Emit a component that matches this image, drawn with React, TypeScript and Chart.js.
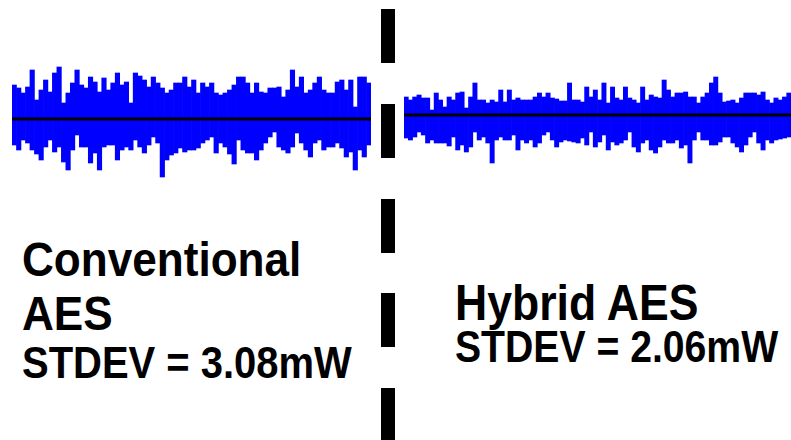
import React, { useEffect, useRef } from "react";
import { Chart, registerables } from "chart.js";

Chart.register(...registerables);

// Power trace envelopes (deviation from mean, arbitrary units), one value per sample window
const CONV_UPPER = [34,31,26,32,49,19,29,39,27,46,52,16,26,36,49,34,31,42,37,27,41,29,36,46,34,37,16,46,43,39,32,42,36,31,26,29,36,36,42,32,39,26,36,32,36,26,24,26,29,34,42,42,36,26,36,27,26,31,31,32,22,29,49,32,42,26,29,36,42,29,26,26,37,39,29,39,12,42,42,36];
const CONV_LOWER = [-26,-31,-21,-24,-31,-35,-41,-28,-21,-33,-28,-43,-51,-31,-16,-28,-28,-44,-34,-51,-28,-26,-26,-41,-31,-28,-31,-21,-28,-34,-26,-18,-24,-58,-41,-36,-34,-29,-33,-31,-31,-29,-24,-21,-18,-34,-24,-28,-35,-45,-21,-31,-34,-34,-41,-31,-24,-18,-13,-28,-31,-34,-28,-14,-24,-31,-38,-24,-21,-31,-28,-28,-24,-29,-38,-33,-51,-31,-38,-26];
const HYB_UPPER = [18,15,18,20,17,17,5,22,15,8,18,15,22,23,7,18,32,15,15,12,15,13,25,13,25,15,17,15,15,15,18,22,18,22,17,16,14,14,32,15,15,13,28,18,25,15,32,12,28,17,15,28,17,15,12,28,15,20,18,17,35,25,18,22,22,23,18,18,12,18,22,32,38,22,13,14,15,12,17,22,22,22,20,23,15,12,17,15,18,22];
const HYB_LOWER = [-23,-25,-22,-17,-20,-28,-25,-28,-28,-28,-31,-22,-35,-30,-37,-32,-17,-25,-22,-28,-48,-25,-22,-25,-25,-20,-35,-25,-28,-25,-32,-28,-20,-17,-25,-32,-27,-25,-26,-27,-28,-23,-30,-17,-32,-27,-20,-35,-27,-30,-28,-25,-17,-32,-37,-28,-25,-35,-38,-32,-25,-28,-28,-25,-33,-30,-48,-25,-17,-25,-25,-30,-30,-27,-22,-22,-28,-32,-37,-30,-22,-17,-28,-35,-25,-28,-25,-24,-23,-22];

const BASELINE = 0;
const CONV_RANGE = [-66, 59];
const HYB_RANGE = [-55, 45];

const LABEL_CONV_1 = "Conventional";
const LABEL_CONV_2 = "AES";
const LABEL_CONV_STD = "STDEV = 3.08mW";
const LABEL_HYB_1 = "Hybrid AES";
const LABEL_HYB_STD = "STDEV = 2.06mW";

const zeroLinePlugin = {
  id: "zeroLine",
  afterDatasetsDraw(chart: any) {
    const { ctx, chartArea, scales } = chart;
    const y = scales.y.getPixelForValue(BASELINE);
    ctx.save();
    ctx.strokeStyle = "#000000";
    ctx.lineWidth = 3;
    ctx.beginPath();
    ctx.moveTo(chartArea.left, y);
    ctx.lineTo(chartArea.right, y);
    ctx.stroke();
    ctx.restore();
  },
};

function Wave(props: { upper: number[]; lower: number[]; range: number[]; left: number; top: number; width: number; height: number }) {
  const ref = useRef<HTMLCanvasElement | null>(null);
  useEffect(() => {
    if (!ref.current) return;
    const labels = props.upper.map((_, i) => String(i));
    const data = props.upper.map((u, i) => [props.lower[i], u]);
    const chart = new Chart(ref.current, {
      type: "bar",
      data: {
        labels,
        datasets: [
          {
            data: data as any,
            backgroundColor: "#0000ff",
            borderWidth: 0,
            barPercentage: 1,
            categoryPercentage: 1,
          },
        ],
      },
      options: {
        animation: false,
        responsive: false,
        devicePixelRatio: 1,
        events: [],
        layout: { padding: 0 },
        plugins: { legend: { display: false }, tooltip: { enabled: false }, title: { display: false } },
        scales: {
          x: { display: false, grid: { display: false } },
          y: { display: false, min: props.range[0], max: props.range[1], grid: { display: false } },
        },
      },
      plugins: [zeroLinePlugin],
    });
    return () => chart.destroy();
  }, []);
  return (
    <canvas
      ref={ref}
      width={props.width}
      height={props.height}
      style={{ position: "absolute", left: props.left, top: props.top, width: props.width, height: props.height }}
    />
  );
}

const textBase: React.CSSProperties = {
  position: "absolute",
  fontFamily: "'Liberation Sans', Arial, sans-serif",
  fontWeight: "bold",
  color: "#000",
  lineHeight: 1,
  whiteSpace: "nowrap",
  margin: 0,
  transform: "scaleX(0.9)",
  transformOrigin: "0 0",
};

export default function App() {
  return (
    <div style={{ position: "fixed", left: 0, top: 0, width: 791, height: 440, background: "#fff", overflow: "hidden" }}>
      <Wave upper={CONV_UPPER} lower={CONV_LOWER} range={CONV_RANGE} left={12} top={60} width={359} height={125} />
      <Wave upper={HYB_UPPER} lower={HYB_LOWER} range={HYB_RANGE} left={404} top={70} width={387} height={100} />
      <div
        style={{
          position: "absolute",
          left: 381,
          top: 9,
          width: 14,
          height: 431,
          backgroundImage: "repeating-linear-gradient(to bottom, #000 0px, #000 54px, transparent 54px, transparent 94.8px)",
        }}
      />
      <div style={{ ...textBase, left: 22, top: 234.5, fontSize: 49 }}>{LABEL_CONV_1}</div>
      <div style={{ ...textBase, left: 22, top: 288.5, fontSize: 49 }}>{LABEL_CONV_2}</div>
      <div style={{ ...textBase, left: 22, top: 340.5, fontSize: 44.4 }}>{LABEL_CONV_STD}</div>
      <div style={{ ...textBase, left: 455, top: 278, fontSize: 49.5 }}>{LABEL_HYB_1}</div>
      <div style={{ ...textBase, left: 455, top: 326, fontSize: 43.5 }}>{LABEL_HYB_STD}</div>
    </div>
  );
}
